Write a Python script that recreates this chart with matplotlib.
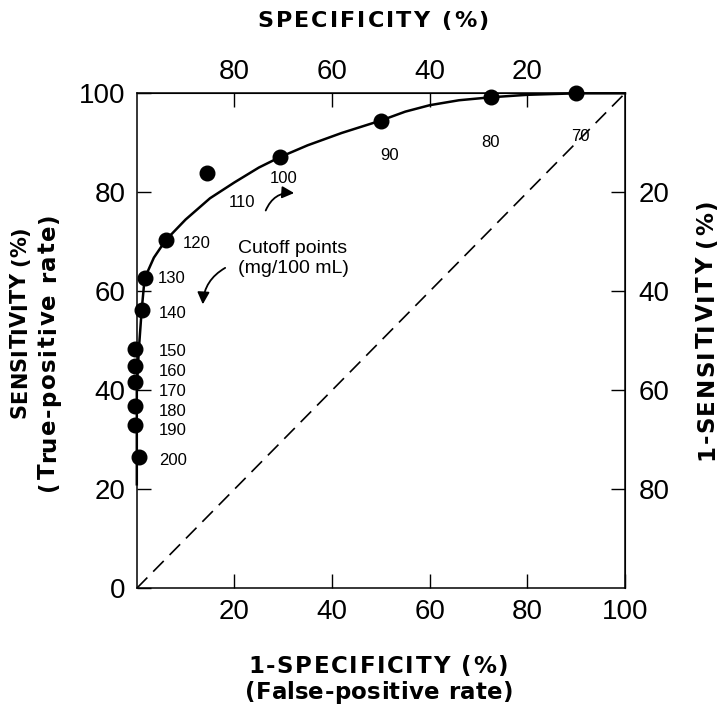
import matplotlib
matplotlib.use("Agg")
import matplotlib.pyplot as plt
from matplotlib.patches import FancyArrowPatch

plt.rcParams["font.family"] = ["Liberation Sans", "DejaVu Sans"]

# cutoff points (mg/100 mL) on the ROC curve
cutoffs = ["200", "190", "180", "170", "160", "150", "140", "130", "120", "110", "100", "90", "80", "70"]
fpr = [0.4, -0.4, -0.4, -0.4, -0.4, -0.4, 1, 1.6, 5.9, 14.3, 29.3, 50, 72.5, 90]
tpr = [26.5, 33, 36.8, 41.6, 45, 48.3, 56.2, 62.6, 70.3, 83.8, 87.1, 94.5, 99.2, 100]

# where the cutoff numbers sit (centre of text)
label_x = [7.4, 7.4, 7.4, 7.4, 7.4, 7.4, 7.3, 7.2, 12.3, 21.5, 30.1, 51.8, 72.5, 90.8]
label_y = [25.9, 31.8, 35.8, 39.8, 43.8, 47.9, 55.6, 62.6, 69.7, 78, 82.8, 87.5, 90, 91.3]

# smooth fitted curve
curve_x = [0, 0, 0, 0.4, 1, 1.6, 3.5, 5.9, 10, 15, 20, 25, 29.3, 35, 42, 50, 55, 60, 66, 72.5, 80, 90, 100]
curve_y = [21, 26.5, 40, 48, 56.2, 62.6, 66.8, 70.3, 74.5, 78.8, 82, 85, 87.1, 89.5, 92, 94.5,
           96.3, 97.6, 98.6, 99.2, 99.7, 100, 100]

W, H = 720, 707
fig = plt.figure(figsize=(W / 100, H / 100), dpi=100)
ax = fig.add_axes([0.190, 0.168, 0.678, 0.700])

ax.plot([0, 100], [0, 100], color="black", lw=1.2, dashes=(9, 5))
ax.plot(curve_x, curve_y, color="black", lw=1.8, clip_on=False, zorder=3)
ax.plot(fpr, tpr, "o", color="black", ms=10.5, clip_on=False, zorder=4)

for name, lx, ly in zip(cutoffs, label_x, label_y):
    ax.text(lx, ly, name, fontsize=12, ha="center", va="center")

ax.text(32, 66.7, "Cutoff points\n(mg/100 mL)", fontsize=14, ha="center", va="center",
        linespacing=1.25)
ax.add_patch(FancyArrowPatch((26.2, 75.8), (32.8, 79.8), connectionstyle="arc3,rad=-0.4",
                             arrowstyle="-|>", mutation_scale=18, color="black", lw=1.3))
ax.add_patch(FancyArrowPatch((18.6, 65), (13.5, 56.8), connectionstyle="arc3,rad=0.3",
                             arrowstyle="-|>", mutation_scale=18, color="black", lw=1.3))

ax.set_xlim(0, 100)
ax.set_ylim(0, 100)
ax.set_xticks([20, 40, 60, 80, 100])
ax.set_yticks([0, 20, 40, 60, 80, 100])
ax.tick_params(direction="in", length=10, width=1, labelsize=20, pad=8)
for s in ax.spines.values():
    s.set_linewidth(1.1)

sec_x = ax.secondary_xaxis("top", functions=(lambda v: 100 - v, lambda v: 100 - v))
sec_x.set_xticks([80, 60, 40, 20])
sec_x.tick_params(direction="in", length=10, width=1, labelsize=20, pad=6)
sec_y = ax.secondary_yaxis("right", functions=(lambda v: 100 - v, lambda v: 100 - v))
sec_y.set_yticks([20, 40, 60, 80])
sec_y.tick_params(direction="in", length=10, width=1, labelsize=20, pad=10)

# axis titles are wide and letter-spaced in the original, so lay them out char by char
renderer = fig.canvas.get_renderer()


def text_width(s, **kw):
    t = fig.text(0, 0, s, **kw)
    w = t.get_window_extent(renderer).width
    t.remove()
    return w


def spaced_label(s, cx, base, length, rotation=0, **kw):
    """cx = centre along the text, base = baseline; pixels, y from top"""
    ref = text_width("I", **kw)
    adv = [0.0] + [text_width(s[:i] + "I", **kw) - ref for i in range(1, len(s))]
    extra = max(0.0, (length - text_width(s, **kw)) / (len(s) - 1))
    total = text_width(s, **kw) + extra * (len(s) - 1)
    for i, ch in enumerate(s):
        d = -total / 2 + adv[i] + extra * i
        if rotation == 0:
            x, y = (cx + d) / W, 1 - base / H
        else:
            x, y = base / W, (H - cx + d) / H
        fig.text(x, y, ch, rotation=rotation, rotation_mode="anchor",
                 ha="left", va="baseline", **kw)


bold = dict(fontsize=16.5, fontweight="bold", family="DejaVu Sans")
spaced_label("SPECIFICITY (%)", 373, 27, 231, fontsize=16, fontweight="bold", family="DejaVu Sans")
spaced_label("1-SPECIFICITY (%)", 378, 673, 260, **bold)
spaced_label("(False-positive rate)", 379, 699, 268, **bold)
spaced_label("SENSITIVITY (%)", 322, 26, 185, rotation=90, fontsize=15, fontweight="bold",
             family="DejaVu Sans")
spaced_label("(True-positive rate)", 352, 55, 278, rotation=90, **bold)
spaced_label("1-SENSITIVITY (%)", 330, 713, 260, rotation=90, **bold)

fig.savefig("out.png", dpi=100)
